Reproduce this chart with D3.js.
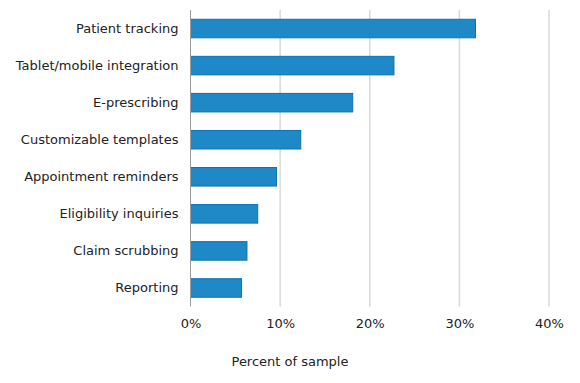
<!DOCTYPE html>
<html><head><meta charset="utf-8">
<script src="https://cdn.jsdelivr.net/npm/d3@7"></script>
<style>body{margin:0;background:#fff}svg{display:block}text{font-family:"DejaVu Sans",Verdana,sans-serif;fill:#222}</style>
</head><body><svg id="c" width="580" height="383"></svg>
<script>
const categories = ["Patient tracking","Tablet/mobile integration","E-prescribing","Customizable templates","Appointment reminders","Eligibility inquiries","Claim scrubbing","Reporting"];
const values = [31.8, 22.7, 18.1, 12.3, 9.6, 7.5, 6.3, 5.7];
const xTicks = [0, 10, 20, 30, 40];
const xTitle = "Percent of sample";

const svg = d3.select("#c");
const m = {left:190.5, right:31, top:10, bottom:76.5};
const W = 580, H = 383;
const FS = "13px";
const x = d3.scaleLinear().domain([0,40]).range([m.left, W - m.right]);
const y = d3.scaleBand().domain(categories).range([m.top, H - m.bottom]).paddingInner(0.5).paddingOuter(0.25);

// gridlines
svg.append("g").selectAll("line").data(xTicks.filter(d=>d>0)).join("line")
  .attr("x1", d=>x(d)).attr("x2", d=>x(d))
  .attr("y1", m.top).attr("y2", H - m.bottom)
  .attr("stroke", "#d9d9d9").attr("stroke-width", 1.5);

// bars
svg.append("g").selectAll("rect").data(values).join("rect")
  .attr("x", x(0))
  .attr("y", (d,i)=>y(categories[i]))
  .attr("width", d=>x(d)-x(0))
  .attr("height", y.bandwidth())
  .attr("fill", "#1f88c7")
  .attr("stroke", "#0b72b5").attr("stroke-width", 1);

// left axis line
svg.append("line").attr("x1", x(0)).attr("x2", x(0)).attr("y1", m.top).attr("y2", H - m.bottom)
  .attr("stroke", "#9a9a9a").attr("stroke-width", 1);

// y axis labels
const ya = svg.append("g").attr("transform", `translate(${x(0)},0)`)
  .call(d3.axisLeft(y).tickSize(0).tickPadding(12));
ya.select(".domain").remove();
ya.selectAll("text").style("font-family", '"DejaVu Sans",Verdana,sans-serif').style("font-size",FS).attr("fill","#222");

// x axis labels
const xa = svg.append("g").attr("transform", `translate(0,${H - m.bottom})`)
  .call(d3.axisBottom(x).tickValues(xTicks).tickFormat(d=>d+"%").tickSize(0).tickPadding(12));
xa.select(".domain").remove();
xa.selectAll("text").style("font-family", '"DejaVu Sans",Verdana,sans-serif').style("font-size",FS).attr("fill","#222");

svg.append("text").attr("x", 290).attr("y", 366).attr("text-anchor","middle")
  .style("font-size",FS).text(xTitle);
</script></body></html>
